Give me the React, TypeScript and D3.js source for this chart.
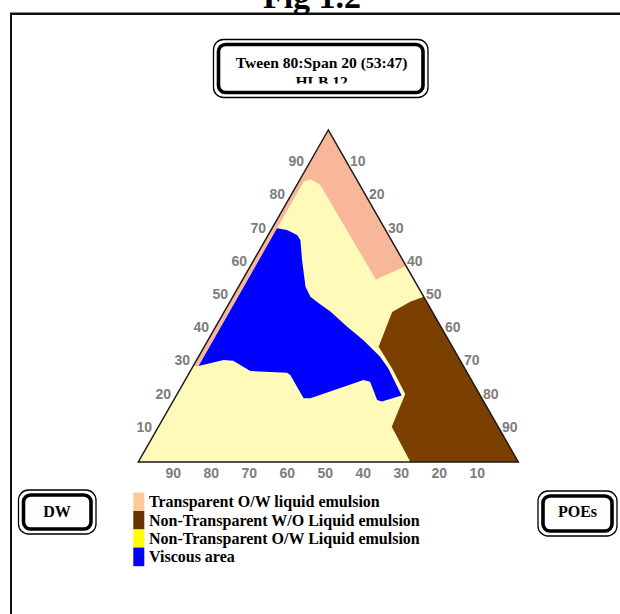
import * as d3 from "d3";
import React, {useEffect, useRef} from "react";

// points are [top %, right %] of the ternary diagram, left % is the rest
type TernaryPoint = [number, number];

const leftTicks = [10, 20, 30, 40, 50, 60, 70, 80, 90];
const rightTicks = [10, 20, 30, 40, 50, 60, 70, 80, 90];
const bottomTicks = [90, 80, 70, 60, 50, 40, 30, 20, 10];

const outline: TernaryPoint[] = [[100, 0], [0, 0], [0, 100]];

const transparentOW: TernaryPoint[] = [
  [100, 0], [59, 41], [55, 35], [83.4, 6.2], [85.2, 2.7], [84.5, 1.3], [28.9, 1.3], [28.9, 0]
];

const viscousArea: TernaryPoint[] = [
  [70.4, 1.3], [69.9, 4.2], [68.4, 7.6], [66.9, 9.2], [60.8, 12.7], [52.8, 17.6],
  [49.8, 20.4], [47.8, 23.6], [45.3, 27.9], [40.8, 34.5], [36.7, 40.9], [31.7, 47.8],
  [28.2, 51.7], [20, 59.3], [18.2, 55], [18.7, 53.5], [24.2, 48.9], [24.7, 46.9],
  [19.2, 35.7], [19.2, 33.9], [26.2, 26.9], [26.9, 25.7], [27.4, 15.8], [27.7, 15.2],
  [30.5, 9.7], [30.7, 7.1], [28.9, 1.4]
];

const nonTransparentWO: TernaryPoint[] = [
  [49.8, 50.2], [48.3, 47.4], [45.2, 44.2], [34.7, 45.9], [28.2, 52.7], [20.5, 60],
  [10.6, 61.4], [0, 71.6], [0, 100]
];

const legendLabels = [
  'Transparent O/W liquid emulsion',
  'Non-Transparent W/O Liquid emulsion',
  'Non-Transparent O/W Liquid emulsion',
  'Viscous area'
];
const legendColors = ['#ffc898', '#663300', '#ffff00', '#0000ff'];

const serif = '"Liberation Serif", "Times New Roman", serif';

const App: React.FC = () => {
  const ref = useRef<SVGSVGElement | null>(null);

  useEffect(() => {
    const svg = d3.select(ref.current);
    svg.selectAll('*').remove();

    const width = 620;
    const height = 614;
    svg.attr('width', width).attr('height', height);

    const yScale = d3.scaleLinear().domain([0, 100]).range([462, 130]);
    const xScale = d3.scaleLinear().domain([0, 100]).range([138.3, 518.3]);
    const project = ([a, c]: TernaryPoint): [number, number] => [xScale(c + a / 2), yScale(a)];

    const area = d3.line<TernaryPoint>()
      .x((d) => project(d)[0])
      .y((d) => project(d)[1])
      .curve(d3.curveLinearClosed);

    // frame
    svg.append('line')
      .attr('x1', 10).attr('x2', width).attr('y1', 13.7).attr('y2', 13.7)
      .attr('stroke', '#111').attr('stroke-width', 2.5);
    svg.append('line')
      .attr('x1', 11).attr('x2', 11).attr('y1', 13).attr('y2', height)
      .attr('stroke', '#111').attr('stroke-width', 2);

    // title sits partly above the page, as in the scan
    svg.append('text')
      .attr('x', 312).attr('y', 8)
      .attr('text-anchor', 'middle')
      .style('font-family', serif).style('font-weight', 'bold').style('font-size', '34px')
      .text('Fig 1.2');

    const drawBox = (x: number, y: number, w: number, h: number) => {
      svg.append('rect')
        .attr('x', x).attr('y', y).attr('width', w).attr('height', h)
        .attr('rx', 10).attr('fill', 'white')
        .attr('stroke', 'black').attr('stroke-width', 1.3);
      svg.append('rect')
        .attr('x', x + 5).attr('y', y + 5).attr('width', w - 10).attr('height', h - 10)
        .attr('rx', 7).attr('fill', 'white')
        .attr('stroke', 'black').attr('stroke-width', 3.6);
    };

    // header box
    drawBox(213.5, 39.5, 214.5, 58);
    svg.append('defs').append('clipPath').attr('id', 'hdr-clip')
      .append('rect').attr('x', 220).attr('y', 46).attr('width', 200).attr('height', 37.5);
    const hdr = svg.append('g').attr('clip-path', 'url(#hdr-clip)')
      .style('font-family', serif).style('font-weight', 'bold').style('font-size', '15.6px')
      .attr('text-anchor', 'middle');
    hdr.append('text').attr('x', 321.7).attr('y', 68.3).text('Tween 80:Span 20 (53:47)');
    hdr.append('text').attr('x', 321.7).attr('y', 86.5).text('HLB 12');

    // diagram
    svg.append('path').attr('d', area(outline)).attr('fill', '#fffab9');
    svg.append('path').attr('d', area(transparentOW)).attr('fill', '#f8b79b');
    svg.append('path').attr('d', area(viscousArea)).attr('fill', '#0000ff');
    svg.append('path').attr('d', area(nonTransparentWO)).attr('fill', '#7b3f00');
    svg.append('path').attr('d', area(outline))
      .attr('fill', 'none').attr('stroke', '#1a1a1a').attr('stroke-width', 1.5);

    const labels = svg.append('g')
      .style('font-family', '"Liberation Sans", Arial, sans-serif')
      .style('font-weight', 'bold').style('font-size', '14px')
      .attr('fill', '#7d7d7d')
      .attr('text-anchor', 'middle')
      .attr('dominant-baseline', 'central');

    labels.selectAll('.left-tick')
      .data(leftTicks)
      .enter()
      .append('text')
      .attr('x', (d) => project([d, 0])[0] - 13)
      .attr('y', (d) => project([d, 0])[1] - 2)
      .text((d) => d);

    labels.selectAll('.right-tick')
      .data(rightTicks)
      .enter()
      .append('text')
      .attr('x', (d) => project([100 - d, d])[0] + 10.5)
      .attr('y', (d) => project([100 - d, d])[1] - 2)
      .text((d) => d);

    labels.selectAll('.bottom-tick')
      .data(bottomTicks)
      .enter()
      .append('text')
      .attr('x', (d) => project([0, 100 - d])[0] - 3)
      .attr('y', 473)
      .text((d) => d);

    // corner boxes
    drawBox(18.5, 490, 77.5, 44);
    drawBox(538, 491, 79, 45);
    const corner = svg.append('g')
      .style('font-family', serif).style('font-weight', 'bold').style('font-size', '16px')
      .attr('text-anchor', 'middle');
    corner.append('text').attr('x', 57).attr('y', 517.3).text('DW');
    corner.append('text').attr('x', 577.5).attr('y', 517).text('POEs');

    // legend
    const legend = svg.append('g');
    legend.selectAll('rect')
      .data(legendColors)
      .enter()
      .append('rect')
      .attr('x', 133.3)
      .attr('y', (_, i) => 492.7 + i * 18.3)
      .attr('width', 11)
      .attr('height', 18.6)
      .attr('fill', (d) => d);
    legend.selectAll('text')
      .data(legendLabels)
      .enter()
      .append('text')
      .attr('x', 149)
      .attr('y', (_, i) => 507.3 + i * 18.2)
      .style('font-family', serif).style('font-weight', 'bold').style('font-size', '16px')
      .text((d) => d);

    return () => {
      svg.selectAll('*').remove();
    };
  }, []);

  return <svg ref={ref} style={{position: 'absolute', left: 0, top: 0, display: 'block', background: 'white'}} />;
};

export default App;
